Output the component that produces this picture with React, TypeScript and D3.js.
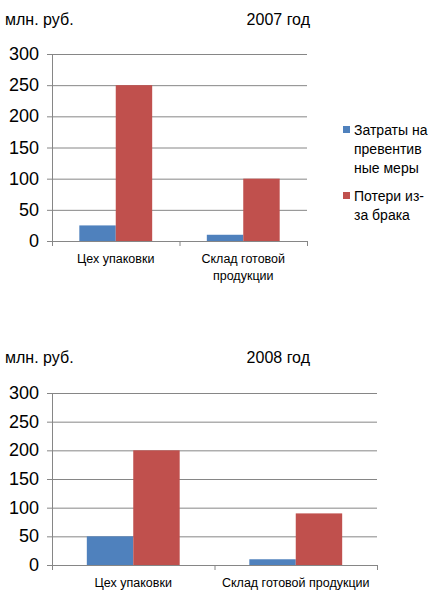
import { useMemo } from 'react';
import * as d3 from 'd3';

const categories2007 = ['Цех упаковки', 'Склад готовой продукции'];
const categories2008 = ['Цех упаковки', 'Склад готовой продукции'];
const seriesNames = ['Затраты на превентивные меры', 'Потери из-за брака'];
const prevention2007 = [25, 10];
const losses2007 = [250, 100];
const prevention2008 = [50, 10];
const losses2008 = [200, 90];
const yTicks = [0, 50, 100, 150, 200, 250, 300];
const legendLines = [
  ['Затраты на', 'превентив', 'ные меры'],
  ['Потери из-', 'за брака'],
];

const COLORS = ['#4F81BD', '#C0504D'];
const FONT = '"Liberation Sans", Arial, sans-serif';

interface PanelProps {
  top: number;
  plotTop: number;
  plotBottom: number;
  plotLeft: number;
  plotRight: number;
  year: string;
  categories: string[];
  labelLines: string[][];
  values: number[][];
}

function Panel({ top, plotTop, plotBottom, plotLeft, plotRight, year, categories, labelLines, values }: PanelProps) {
  const y = useMemo(
    () => d3.scaleLinear().domain([0, 300]).range([plotBottom, plotTop]),
    [plotTop, plotBottom]
  );
  const x0 = d3.scaleBand<string>().domain(categories).range([plotLeft, plotRight]);
  // Excel default gap width 150%
  const x1 = d3
    .scaleBand<number>()
    .domain([0, 1])
    .range([0, x0.bandwidth()])
    .paddingInner(0)
    .paddingOuter(0.75);

  return (
    <g>
      <text x={5} y={top + 25} fontSize={16} fontFamily={FONT} fill="#000">
        млн. руб.
      </text>
      <text x={310} y={top + 25} fontSize={16} fontFamily={FONT} fill="#000" textAnchor="end">
        {year}
      </text>

      {/* gridlines + y ticks */}
      {yTicks.map(t => (
        <g key={t}>
          <line x1={plotLeft - 5} x2={plotRight} y1={y(t) + 0.5} y2={y(t) + 0.5} stroke="#868686" strokeWidth={1} />
          <text
            x={39}
            y={y(t) + 6}
            fontSize={18}
            fontFamily={FONT}
            textAnchor="end"
            fill="#000"
          >
            {t}
          </text>
        </g>
      ))}
      <line x1={plotLeft + 0.5} x2={plotLeft + 0.5} y1={plotTop} y2={plotBottom} stroke="#868686" />

      {/* bars */}
      {categories.map((c, ci) =>
        values.map((vals, si) => (
          <rect
            key={`${c}-${si}`}
            x={(x0(c) ?? 0) + (x1(si) ?? 0)}
            y={y(vals[ci])}
            width={x1.bandwidth()}
            height={plotBottom - y(vals[ci])}
            fill={COLORS[si]}
          />
        ))
      )}

      {/* bottom axis ticks */}
      {[plotLeft, ...categories.map(c => (x0(c) ?? 0) + x0.bandwidth())].map((tx, i) => (
        <line key={i} x1={tx + 0.5} x2={tx + 0.5} y1={plotBottom} y2={plotBottom + 5} stroke="#868686" />
      ))}

      {/* category labels */}
      {categories.map((c, ci) => (
        <text
          key={c}
          x={(x0(c) ?? 0) + x0.bandwidth() / 2}
          fontSize={12.5}
          fontFamily={FONT}
          textAnchor="middle"
          fill="#000"
        >
          {labelLines[ci].map((ln, li) => (
            <tspan key={li} x={(x0(c) ?? 0) + x0.bandwidth() / 2} y={plotBottom + 22 + li * 17}>
              {ln}
            </tspan>
          ))}
        </text>
      ))}
    </g>
  );
}

export default function App() {
  return (
    <svg
      width={446}
      height={601}
      style={{ position: 'absolute', left: 0, top: 0, background: '#fff' }}
    >
      <rect width={446} height={601} fill="#fff" />
      <Panel
        top={0}
        plotTop={54}
        plotBottom={241}
        plotLeft={52}
        plotRight={307}
        year="2007 год"
        categories={categories2007}
        labelLines={[['Цех упаковки'], ['Склад готовой', 'продукции']]}
        values={[prevention2007, losses2007]}
      />
      {/* legend for 2007 */}
      <g>
        {legendLines.map((lines, si) => {
          const baseY = si === 0 ? 135 : 201;
          return (
            <g key={si}>
              <rect x={343} y={baseY - 9} width={7} height={7} fill={COLORS[si]} />
              <text fontSize={14} fontFamily={FONT} fill="#000">
                {lines.map((ln, li) => (
                  <tspan key={li} x={354} y={baseY + li * 19}>
                    {ln}
                  </tspan>
                ))}
              </text>
            </g>
          );
        })}
      </g>
      <Panel
        top={338}
        plotTop={393}
        plotBottom={565}
        plotLeft={52}
        plotRight={377}
        year="2008 год"
        categories={categories2008}
        labelLines={[['Цех упаковки'], ['Склад готовой продукции']]}
        values={[prevention2008, losses2008]}
      />
      <title>{seriesNames.join(', ')}</title>
    </svg>
  );
}
